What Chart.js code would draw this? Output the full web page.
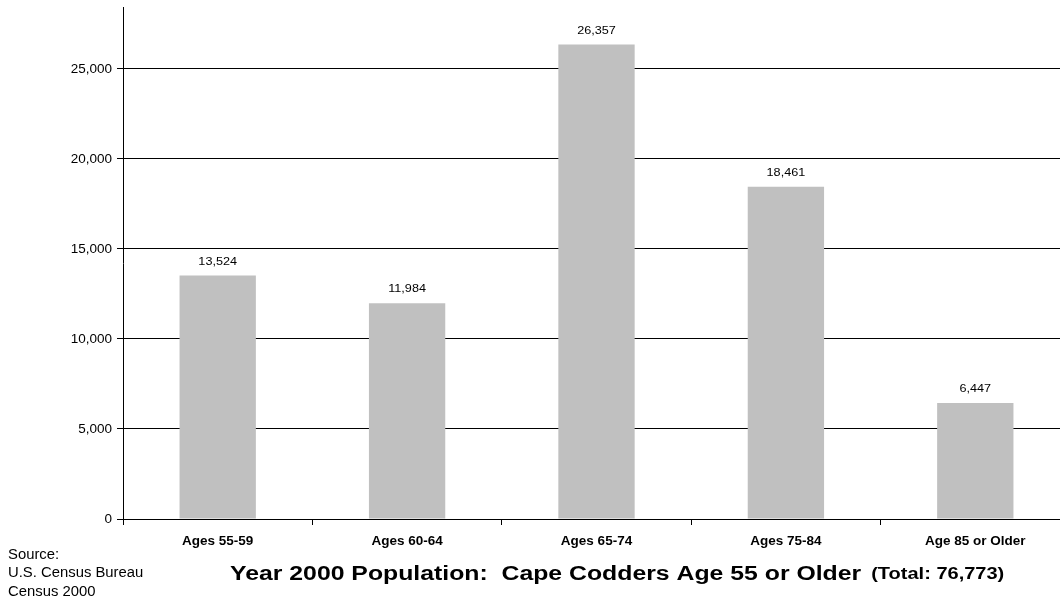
<!DOCTYPE html>
<html>
<head>
<meta charset="utf-8">
<script src="https://cdn.jsdelivr.net/npm/chart.js@4"></script>
<style>
  html, body { margin:0; padding:0; background:#fff; overflow:hidden; width:1060px; height:601px; }
  #wrap { position:absolute; left:0; top:0; width:1080px; height:601px; }
</style>
</head>
<body>
<div id="wrap"><canvas id="grafico" width="1080" height="601"></canvas></div>
<script>
// datos del censo
var categorias = ["Ages 55-59", "Ages 60-64", "Ages 65-74", "Ages 75-84", "Age 85 or Older"];
var poblacion = [13524, 11984, 26357, 18461, 6447];
var marcasY = [0, 5000, 10000, 15000, 20000, 25000];
var fuente = ["Source:", "U.S. Census Bureau", "Census 2000"];
var tituloAbajo = "Year 2000 Population:  Cape Codders Age 55 or Older";
var totalTexto = "(Total: 76,773)";

var FAM = "'Liberation Sans', Arial, sans-serif";
function fmt(n){ return n.toLocaleString("en-US"); }

// el grafico original esta estirado a lo ancho
function texto(ctx, str, x, y, sx){
  ctx.save();
  ctx.translate(x, y);
  ctx.scale(sx, 1);
  ctx.fillText(str, 0, 0);
  ctx.restore();
}

// numeros encima de las barras
var etiquetas = {
  id: "etiquetas",
  afterDatasetsDraw(chart){
    var ctx = chart.ctx;
    var meta = chart.getDatasetMeta(0);
    ctx.save();
    ctx.font = "11px " + FAM;
    ctx.fillStyle = "#000";
    ctx.textAlign = "center";
    ctx.textBaseline = "middle";
    meta.data.forEach(function(bar, i){
      texto(ctx, fmt(poblacion[i]), bar.x, bar.y - 14, 1.15);
    });
    ctx.restore();
  }
};

// textos de abajo
var pie = {
  id: "pie",
  afterDraw(chart){
    var ctx = chart.ctx;
    ctx.save();
    ctx.fillStyle = "#000";
    ctx.textBaseline = "middle";
    ctx.textAlign = "left";
    ctx.font = "14px " + FAM;
    for (let i = 0; i < fuente.length; i++) {
      texto(ctx, fuente[i], 8, 555 + i*18.5, 1.06);
    }
    ctx.font = "bold 20px " + FAM;
    texto(ctx, tituloAbajo, 230, 574, 1.24);
    var w = ctx.measureText(tituloAbajo).width * 1.24;
    ctx.font = "bold 16px " + FAM;
    texto(ctx, totalTexto, 230 + w + 10, 575, 1.25);
    ctx.restore();
  }
};

var ctx = document.getElementById("grafico").getContext("2d");
var chart = new Chart(ctx, {
  type: "bar",
  data: {
    labels: categorias,
    datasets: [{
      data: poblacion,
      backgroundColor: "#c0c0c0",
      borderWidth: 0,
      categoryPercentage: 1,
      barPercentage: 0.403
    }]
  },
  options: {
    responsive: false,
    animation: false,
    layout: { padding: { left: 0, top: 7, right: 10, bottom: 0 } },
    plugins: { legend: { display: false }, tooltip: { enabled: false } },
    scales: {
      x: {
        grid: { offset: true, drawOnChartArea: false, color: "#000", tickLength: 6 },
        border: { display: true, color: "#000", width: 1 },
        ticks: {
          color: "#000",
          padding: 8,
          maxRotation: 0,
          font: { family: FAM, size: 13.5, weight: "bold" }
        },
        afterFit(scale){ scale.height = 82; scale.paddingLeft = 0; scale.paddingRight = 0; }
      },
      y: {
        min: 0,
        max: 28444,
        afterBuildTicks(scale){
          scale.ticks = marcasY.map(function(v){ return { value: v }; });
        },
        grid: { color: "#000", tickLength: 6, lineWidth: 1 },
        border: { display: true, color: "#000", width: 1 },
        ticks: {
          color: "#000",
          padding: 5,
          font: { family: FAM, size: 13.5 },
          callback: function(v){ return fmt(v); }
        },
        afterFit(scale){ scale.width = 123; scale.paddingTop = 0; scale.paddingBottom = 0; }
      }
    }
  },
  plugins: [etiquetas, pie]
});
</script>
</body>
</html>
